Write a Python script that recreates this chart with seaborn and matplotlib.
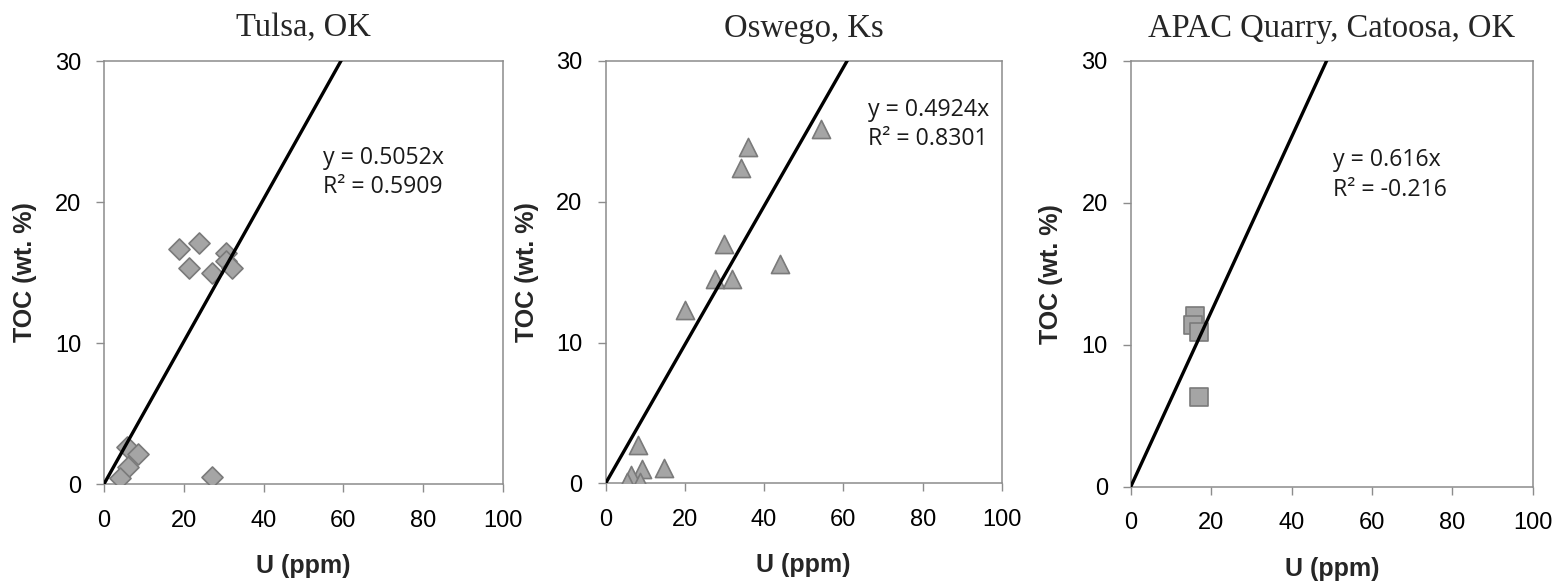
import numpy as np
import pandas as pd
import matplotlib
matplotlib.use("Agg")
import matplotlib.pyplot as plt
import seaborn as sns

# ---- data ----
titles = ["Tulsa, OK", "Oswego, Ks", "APAC Quarry, Catoosa, OK"]

tulsa_u = [18.9, 23.7, 21.3, 27.0, 30.6, 30.7, 32.2, 5.7, 8.6, 6.1, 4.0, 27.0]
tulsa_toc = [16.7, 17.1, 15.3, 15.0, 16.4, 15.8, 15.3, 2.6, 2.1, 1.2, 0.45, 0.5]

oswego_u = [54.3, 35.9, 34.3, 30.0, 44.1, 27.6, 31.8, 20.1, 8.3, 14.8, 9.1, 6.4, 5.3, 8.7]
oswego_toc = [25.2, 23.9, 22.4, 17.0, 15.6, 14.5, 14.5, 12.3, 2.7, 1.1, 1.0, 0.6, 0.1, 0.1]

apac_u = [16.0, 15.6, 17.1, 17.0]
apac_toc = [12.0, 11.4, 10.9, 6.3]

slopes = [0.5052, 0.4924, 0.616]
eq_labels = ["y = 0.5052x", "y = 0.4924x", "y = 0.616x"]
r2_labels = ["R\u00b2 = 0.5909", "R\u00b2 = 0.8301", "R\u00b2 = -0.216"]

x_ticks = [0, 20, 40, 60, 80, 100]
y_ticks = [0, 10, 20, 30]

# ---- style ----
sns.set_style("white")
plt.rcParams["font.family"] = ["Liberation Sans", "DejaVu Sans"]

fig = plt.figure(figsize=(15.59, 5.84), dpi=100)

positions = [
    [0.0667, 0.1712, 0.2559, 0.7243],
    [0.3884, 0.1721, 0.2543, 0.7235],
    [0.7253, 0.1666, 0.2579, 0.7290],
]
markers = ["D", "^", "s"]
msizes = [115, 170, 165]
datasets = [(tulsa_u, tulsa_toc), (oswego_u, oswego_toc), (apac_u, apac_toc)]
text_pos = [(0.549, 0.771, 0.702), (0.662, 0.884, 0.815), (0.503, 0.767, 0.697)]

fill_c = "#A5A5A5"
edge_c = "#7A7A7A"
spine_c = "#8C8C8C"

for i in range(3):
    ax = fig.add_axes(positions[i])
    u, toc = datasets[i]
    df = pd.DataFrame({"U": u, "TOC": toc})
    sns.scatterplot(data=df, x="U", y="TOC", marker=markers[i], s=msizes[i],
                    color=fill_c, edgecolor=edge_c, linewidth=1.2, ax=ax, zorder=3)
    lx = np.array([0.0, 100.0])
    ldf = pd.DataFrame({"x": lx, "y": slopes[i] * lx})
    sns.lineplot(data=ldf, x="x", y="y", color="black", linewidth=2.4, ax=ax, zorder=4)

    ax.set_xlim(0, 100)
    ax.set_ylim(0, 30)
    ax.set_xticks(x_ticks)
    ax.set_yticks(y_ticks)
    ax.tick_params(axis="both", which="major", direction="out", length=5.5, width=1,
                   color=spine_c, labelsize=17, labelcolor="black", bottom=True, left=True)
    ax.tick_params(axis="x", pad=13)
    ax.tick_params(axis="y", pad=11)
    for sp in ax.spines.values():
        sp.set_visible(True)
        sp.set_color(spine_c)
        sp.set_linewidth(1.1)

    ax.set_xlabel("U (ppm)", fontsize=18, fontweight="bold")
    ax.set_ylabel("TOC (wt. %)", fontsize=18, fontweight="bold")
    ax.xaxis.set_label_coords(0.5, -0.165)
    ax.yaxis.set_label_coords(-0.168, 0.5)

    ax.set_title(titles[i], fontsize=23.5, family=["Liberation Serif", "DejaVu Serif"], pad=17.5)

    tx, ty1, ty2 = text_pos[i]
    ax.text(tx, ty1, eq_labels[i], transform=ax.transAxes, ha="left", va="center",
            fontsize=16.7, family=["Open Sans", "DejaVu Sans"], color="#1a1a1a")
    ax.text(tx, ty2, r2_labels[i], transform=ax.transAxes, ha="left", va="center",
            fontsize=16.7, family=["Open Sans", "DejaVu Sans"], color="#1a1a1a")

fig.savefig("out.png", dpi=100)
